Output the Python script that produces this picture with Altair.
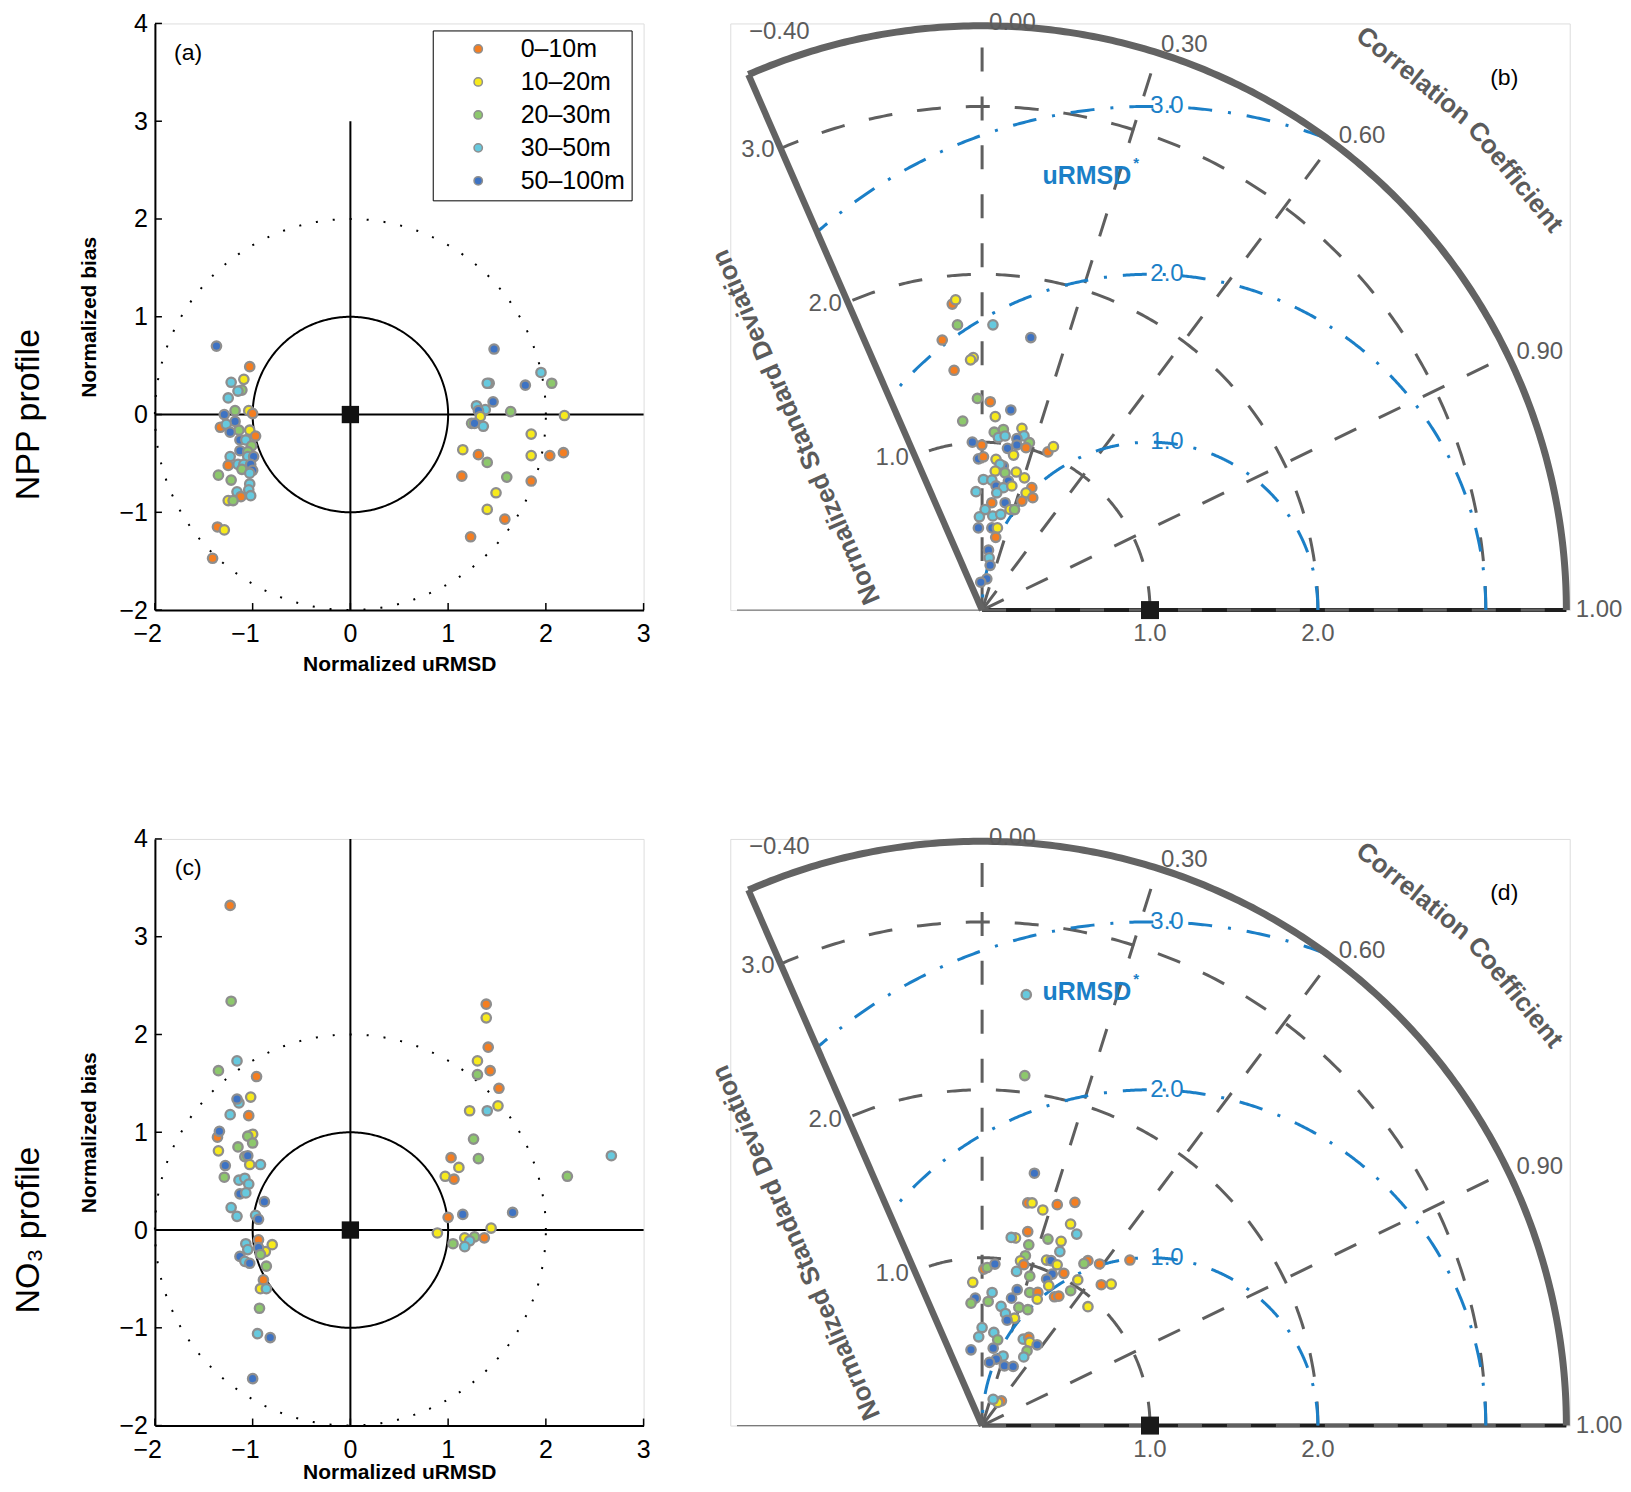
import altair as alt
import pandas as pd

FONT = "Liberation Sans"
INK = "#000000"
GRID_GREY = "#5f5f5f"
FRAME_GREY = "#636363"
TEXT_GREY = "#5b5b5b"
URMSD_BLUE = "#1b7fc7"
EDGE_GREY = "#8e8e8e"

DEPTH_CLASSES = ["0–10m", "10–20m", "20–30m", "30–50m", "50–100m"]
DEPTH_COLORS = ["#F47E21", "#F7EA1C", "#8DC86C", "#66C9DE", "#3E73C3"]

# ---------------- (a) NPP profile: target diagram ----------------
A_URMSD = [-1.41, -1.37, -1.03, -1.09, -1.22, -1.11, -1.15, -1.25, -1.18, -1.29,
           -1.04, -1.00, -1.18, -1.33, -1.27, -1.14, -1.03, -1.23, -0.97, -1.13,
           -1.07, -1.01, -1.13, -1.05, -1.23, -1.05, -0.99, -1.25, -1.15, -1.09,
           -1.02, -1.11, -1.00, -1.03, -1.35, -1.22, -1.03, -1.04, -1.16, -1.02,
           -1.12, -1.25, -1.20, -1.36, -1.29,
           1.47, 1.42, 1.40, 1.95, 1.79, 2.06, 1.29, 1.38, 1.46, 1.31,
           1.64, 2.19, 1.33, 1.24, 1.27, 1.36, 1.85, 1.15, 1.31, 1.40,
           1.85, 2.04, 2.18, 1.14, 1.60, 1.85, 1.49, 1.40, 1.58, 1.23]
A_BIAS = [-1.47, 0.70, 0.49, 0.36, 0.33, 0.25, 0.24, 0.17, 0.04, 0.00,
          0.04, 0.01, -0.07, -0.13, -0.10, -0.16, -0.16, -0.18, -0.22, -0.26,
          -0.26, -0.32, -0.37, -0.38, -0.43, -0.43, -0.43, -0.52, -0.51, -0.51,
          -0.51, -0.56, -0.57, -0.60, -0.62, -0.67, -0.71, -0.77, -0.79, -0.83,
          -0.84, -0.88, -0.88, -1.15, -1.18,
          0.67, 0.32, 0.32, 0.43, 0.30, 0.32, 0.09, 0.05, 0.13, 0.04,
          0.03, -0.01, -0.02, -0.09, -0.09, -0.12, -0.20, -0.36, -0.41, -0.49,
          -0.42, -0.42, -0.39, -0.63, -0.64, -0.68, -0.80, -0.97, -1.07, -1.25]
A_DEPTH = [0, 4, 0, 1, 3, 2, 3, 3, 2, 4, 1, 0, 4, 0, 3, 2, 1, 4, 0, 4,
           3, 2, 4, 2, 3, 3, 4, 0, 3, 3, 4, 2, 4, 3, 2, 2, 3, 3, 3, 3,
           0, 1, 2, 0, 1,
           4, 2, 3, 3, 4, 2, 3, 3, 4, 4, 2, 1, 1, 2, 4, 3, 1, 1, 0, 2,
           1, 0, 0, 0, 2, 0, 1, 1, 0, 0]

# ---------------- (c) NO3 profile: target diagram ----------------
C_URMSD = [-1.23, -1.22, -1.16, -1.35, -0.96, -1.14, -1.16, -1.02, -1.23, -1.04,
           -1.36, -1.34, -1.00, -1.05, -1.00, -1.35, -1.15, -1.08, -1.05, -1.03,
           -0.92, -1.28, -1.29, -1.14, -1.08, -1.04, -1.13, -1.07, -0.88, -1.22,
           -1.16, -0.97, -0.94, -0.94, -1.07, -0.80, -0.87, -0.94, -1.05, -0.92,
           -1.13, -1.08, -1.03, -0.86, -0.89, -0.92, -0.86, -0.93, -0.95, -0.82,
           -1.00,
           1.39, 1.39, 1.41, 1.30, 1.43, 1.30, 1.52, 1.51, 1.22, 1.40,
           1.26, 1.03, 1.31, 2.67, 1.11, 2.22, 0.97, 1.06, 1.00, 1.15,
           1.66, 1.44, 0.89, 1.17, 1.27, 1.22, 1.37, 1.05, 1.17]
C_BIAS = [3.32, 2.34, 1.73, 1.63, 1.57, 1.30, 1.34, 1.36, 1.18, 1.17,
          0.95, 1.01, 0.98, 0.96, 0.89, 0.81, 0.85, 0.75, 0.76, 0.67,
          0.67, 0.66, 0.54, 0.51, 0.53, 0.47, 0.37, 0.38, 0.29, 0.23,
          0.14, 0.15, 0.11, -0.10, -0.14, -0.15, -0.22, -0.18, -0.20, -0.25,
          -0.27, -0.32, -0.34, -0.37, -0.51, -0.60, -0.60, -0.80, -1.06, -1.10,
          -1.52,
          2.31, 2.17, 1.87, 1.73, 1.63, 1.59, 1.45, 1.27, 1.22, 1.22,
          0.93, 0.74, 0.73, 0.76, 0.64, 0.55, 0.55, 0.52, 0.13, 0.16,
          0.18, 0.02, -0.03, -0.08, -0.07, -0.11, -0.08, -0.14, -0.17]
C_DEPTH = [0, 2, 3, 2, 0, 3, 4, 1, 3, 0, 0, 4, 1, 2, 2, 1, 2, 2, 4, 1,
           3, 4, 2, 3, 3, 3, 4, 3, 4, 3, 3, 3, 4, 0, 3, 1, 1, 4, 3, 2,
           4, 3, 4, 2, 0, 1, 3, 2, 3, 4, 4,
           0, 1, 0, 1, 0, 2, 0, 1, 1, 3, 2, 0, 2, 3, 1, 2, 1, 0, 0, 4,
           4, 1, 1, 1, 2, 3, 0, 2, 3]

# ---------------- (b) NPP profile: Taylor diagram ----------------
B_STD = [1.831, 1.855, 1.705, 1.700, 1.626, 1.649, 1.505, 1.492, 1.438, 1.261,
         1.242, 1.204, 1.155, 1.132, 1.062, 1.083, 1.108, 1.032, 1.046, 1.067,
         1.042, 1.036, 1.002, 0.983, 0.975, 1.005, 1.002, 0.942, 1.021, 1.062,
         0.901, 0.913, 0.902, 0.867, 0.875, 0.832, 0.829, 0.847, 0.827, 0.778,
         0.776, 0.784, 0.744, 0.740, 0.760, 0.787, 0.746, 0.734, 0.706, 0.704,
         0.642, 0.654, 0.691, 0.622, 0.629, 0.599, 0.556, 0.564, 0.581, 0.490,
         0.493, 0.498, 0.441, 0.359, 0.314, 0.271, 0.188, 0.166]
B_CORR = [-0.097, -0.085, -0.086, 0.038, -0.146, 0.176, -0.035, -0.046, -0.116, -0.022,
          0.039, 0.142, 0.068, -0.102, 0.068, 0.117, 0.214, 0.094, 0.131, 0.234,
          0.199, 0.272, -0.058, -0.002, 0.155, 0.206, 0.261, 0.199, 0.384, 0.400,
          -0.024, 0.009, 0.092, 0.146, 0.122, 0.094, 0.165, 0.240, 0.305, 0.010,
          0.075, 0.200, 0.112, 0.172, 0.233, 0.376, 0.351, 0.411, -0.051, 0.124,
          0.090, 0.210, 0.343, 0.268, 0.307, 0.030, -0.029, 0.113, 0.191, -0.045,
          0.118, 0.183, 0.184, 0.106, 0.134, 0.177, 0.149, -0.048]
B_DEPTH = [0, 1, 2, 3, 0, 4, 1, 1, 0, 2, 0, 4, 1, 2, 2, 2, 1, 3, 3, 3,
           4, 2, 4, 0, 4, 4, 0, 1, 0, 1, 4, 0, 1, 4, 3, 1, 2, 1, 1, 3,
           3, 4, 4, 3, 1, 0, 1, 0, 3, 3, 0, 4, 0, 1, 2, 3, 3, 3, 3, 4,
           4, 1, 0, 4, 3, 4, 4, 4]

# ---------------- (d) NO3 profile: Taylor diagram ----------------
D_STD = [2.580, 2.100, 1.535, 1.354, 1.359, 1.334, 1.390, 1.440, 1.311, 1.272,
         1.187, 1.135, 1.134, 1.112, 1.178, 1.194, 1.135, 0.932, 0.942, 0.965,
         1.044, 1.008, 0.990, 1.058, 1.065, 1.057, 1.029, 0.994, 0.941, 0.934,
         0.954, 0.923, 1.038, 1.167, 1.140, 1.190, 1.322, 1.099, 1.141, 0.961,
         0.880, 0.896, 0.948, 0.855, 0.760, 0.732, 0.795, 0.740, 0.836, 0.779,
         0.842, 0.860, 0.821, 0.719, 0.737, 0.742, 0.682, 0.668, 0.645, 0.584,
         0.529, 0.559, 0.519, 0.570, 0.594, 0.571, 0.582, 0.519, 0.478, 0.456,
         0.466, 0.433, 0.405, 0.379, 0.380, 0.398, 0.187, 0.166, 0.170]
D_CORR = [0.102, 0.121, 0.203, 0.201, 0.219, 0.271, 0.322, 0.384, 0.402, 0.443,
          0.229, 0.175, 0.153, 0.250, 0.333, 0.394, 0.408, 0.011, 0.032, 0.079,
          0.247, 0.227, 0.251, 0.363, 0.386, 0.423, 0.473, 0.420, 0.218, 0.304,
          0.403, 0.430, 0.549, 0.540, 0.532, 0.588, 0.666, 0.646, 0.674, 0.549,
          0.490, 0.510, 0.665, -0.065, -0.053, -0.090, 0.075, 0.049, 0.250, 0.225,
          0.337, 0.386, 0.400, 0.157, 0.297, 0.367, 0.204, 0.289, 0.231, 0.000,
          -0.038, 0.125, 0.179, 0.430, 0.468, 0.497, 0.563, 0.516, 0.519, -0.145,
          0.142, 0.289, 0.210, 0.116, 0.350, 0.465, 0.615, 0.560, 0.388]
D_DEPTH = [3, 2, 4, 0, 1, 1, 0, 0, 1, 3, 0, 1, 3, 2, 2, 1, 3, 0, 2, 4,
           2, 1, 0, 1, 4, 1, 0, 4, 3, 2, 4, 1, 1, 0, 2, 0, 0, 0, 1, 2,
           0, 0, 1, 1, 4, 2, 3, 2, 4, 4, 2, 0, 1, 3, 2, 2, 3, 1, 4, 3,
           3, 3, 2, 3, 0, 1, 4, 2, 3, 4, 4, 3, 4, 4, 4, 4, 0, 1, 3]

# ---------------- guides / frame definitions ----------------
TGT_X_LIM = [-2, 3]
TGT_Y_LIM = [-2, 4]
TGT_XTICKS = [-2, -1, 0, 1, 2, 3]
TGT_YTICKS = [-2, -1, 0, 1, 2, 3, 4]
TGT_SOLID_R = [1.0]
TGT_DOTTED_R = [2.0]
TICK_LEN = 0.072

STD_MAX = 3.48
CORR_MIN = -0.4
REF_STD = 1.0
TAYLOR_X_LIM = [-1.5, 3.5]
TAYLOR_Y_LIM = [0.0, 3.494]
TAYLOR_BASE_START = -1.46
STD_GRID = [1.0, 2.0, 3.0]
STD_BOTTOM_LABELS = [1.0, 2.0]
CORR_GRID = [0.0, 0.3, 0.6, 0.9, 1.0]
CORR_LABELS = [0.0, 0.3, 0.6, 0.9, 1.0]
URMSD_GRID = [1.0, 2.0, 3.0]
CORR_LABEL_R = 3.53

PT_SIZE = 88
PT_EDGE = 2.3


def ring_layer(radii, X, Y, **mark):
    return (alt.Chart(pd.DataFrame({"r": radii}))
            .transform_calculate(k="sequence(0, 361)")
            .transform_flatten(["k"])
            .transform_calculate(x="datum.r * cos(datum.k * PI / 180)",
                                 y="datum.r * sin(datum.k * PI / 180)")
            .mark_line(**mark)
            .encode(x=X, y=Y, detail="r:N", order="k:Q"))


def target(xv, yv, dv, vline_top, tag, row_text, legend, title_pad):
    xsc = alt.Scale(domain=TGT_X_LIM, nice=False, zero=False)
    ysc = alt.Scale(domain=TGT_Y_LIM, nice=False, zero=False)
    xax = alt.Axis(title="Normalized uRMSD", labels=False, ticks=False, grid=False,
                   domainColor=INK, domainWidth=2, titlePadding=title_pad, titleFontSize=21,
                   titleFontWeight="bold", titleColor=INK, titleFont=FONT)
    yax = alt.Axis(title="Normalized bias", values=TGT_YTICKS, format="d", ticks=False,
                   grid=False, domainColor=INK, domainWidth=2, labelFontSize=25,
                   labelColor=INK, labelFont=FONT, labelPadding=7.5, titlePadding=19,
                   titleFontSize=21, titleFontWeight="bold", titleColor=INK, titleFont=FONT)
    X = alt.X("x:Q", scale=xsc, axis=xax)
    Y = alt.Y("y:Q", scale=ysc, axis=yax)

    frame = pd.DataFrame({"x": [TGT_X_LIM[0], 0.0], "x2": [TGT_X_LIM[1], 0.0],
                          "y": [0.0, TGT_Y_LIM[0]], "y2": [0.0, vline_top]})
    cross = alt.Chart(frame).mark_rule(color=INK, strokeWidth=2).encode(
        x=X, x2="x2:Q", y=Y, y2="y2:Q")

    xt = (alt.Chart(pd.DataFrame({"x": TGT_XTICKS}))
          .transform_calculate(y=f"{TGT_Y_LIM[0]}", y2=f"{TGT_Y_LIM[0]} + {TICK_LEN}")
          .mark_rule(color=INK, strokeWidth=1.5).encode(x=X, y=Y, y2="y2:Q"))
    yt = (alt.Chart(pd.DataFrame({"y": TGT_YTICKS}))
          .transform_calculate(x=f"{TGT_X_LIM[0]}", x2=f"{TGT_X_LIM[0]} + {TICK_LEN}")
          .mark_rule(color=INK, strokeWidth=1.5).encode(x=X, x2="x2:Q", y=Y))

    solid = ring_layer(TGT_SOLID_R, X, Y, color=INK, strokeWidth=2)
    dotted = ring_layer(TGT_DOTTED_R, X, Y, color=INK, strokeWidth=2, strokeDash=[2, 15])

    df = pd.DataFrame({"x": xv, "y": yv, "depth": [DEPTH_CLASSES[i] for i in dv]})
    pts = alt.Chart(df).mark_circle(size=PT_SIZE, opacity=1, stroke=EDGE_GREY,
                                    strokeWidth=PT_EDGE).encode(
        x=X, y=Y,
        color=alt.Color("depth:N", scale=alt.Scale(domain=DEPTH_CLASSES, range=DEPTH_COLORS),
                        legend=legend))

    ref = alt.Chart(pd.DataFrame({"x": [0.0], "y": [0.0]})).mark_square(
        size=300, color="#111111", opacity=1).encode(x=X, y=Y)

    ticks_df = pd.DataFrame({"x": TGT_XTICKS})
    neg_lab = (alt.Chart(ticks_df).transform_filter("datum.x < 0")
               .transform_calculate(y=f"{TGT_Y_LIM[0]}", t="format(datum.x, 'd')")
               .mark_text(align="right", baseline="middle", dx=7, dy=24, fontSize=25,
                          font=FONT, color=INK)
               .encode(x=X, y=Y, text="t:N"))
    pos_lab = (alt.Chart(ticks_df).transform_filter("datum.x >= 0")
               .transform_calculate(y=f"{TGT_Y_LIM[0]}", t="format(datum.x, 'd')")
               .mark_text(align="center", baseline="middle", dy=24, fontSize=25,
                          font=FONT, color=INK)
               .encode(x=X, y=Y, text="t:N"))

    tag_t = alt.Chart(pd.DataFrame({"x": [-1.66], "y": [3.70], "t": [tag]})).mark_text(
        fontSize=23, font=FONT, color=INK, align="center", baseline="middle").encode(
        x=X, y=Y, text="t:N")
    row_t = alt.Chart(pd.DataFrame({"x": [-3.29], "y": [0.0], "t": [row_text]})).mark_text(
        fontSize=34, font=FONT, color=INK, angle=270, align="center", baseline="middle").encode(
        x=X, y=Y, text="t:N")

    return alt.layer(cross, xt, yt, solid, dotted, pts, ref, neg_lab, pos_lab, tag_t, row_t).properties(
        width=489, height=587)


def taylor(stds, cors, dv, tag):
    xsc = alt.Scale(domain=TAYLOR_X_LIM, nice=False, zero=False)
    ysc = alt.Scale(domain=TAYLOR_Y_LIM, nice=False, zero=False)
    X = alt.X("x:Q", scale=xsc, axis=None)
    Y = alt.Y("y:Q", scale=ysc, axis=None)
    sin_min = f"sqrt(1 - {CORR_MIN} * {CORR_MIN})"

    base = alt.Chart(pd.DataFrame({"x": [TAYLOR_BASE_START], "x2": [STD_MAX], "y": [0.0]})).mark_rule(
        color="#7a7a7a", strokeWidth=1.2).encode(x=X, x2="x2:Q", y=Y)
    axis_line = alt.Chart(pd.DataFrame({"x": [0.0], "x2": [STD_MAX], "y": [0.0]})).mark_rule(
        color="#1e1e1e", strokeWidth=4).encode(x=X, x2="x2:Q", y=Y)

    std_arcs = (alt.Chart(pd.DataFrame({"s": STD_GRID}))
                .transform_calculate(k="sequence(0, 241)")
                .transform_flatten(["k"])
                .transform_calculate(a=f"datum.k / 240 * acos({CORR_MIN})",
                                     x="datum.s * cos(datum.a)", y="datum.s * sin(datum.a)")
                .mark_line(color=GRID_GREY, strokeWidth=3, strokeDash=[24, 25])
                .encode(x=X, y=Y, detail="s:N", order="k:Q"))

    radials = (alt.Chart(pd.DataFrame({"c": CORR_GRID}))
               .transform_calculate(x="0", y="0", x2=f"{STD_MAX} * datum.c",
                                    y2=f"{STD_MAX} * sqrt(1 - datum.c * datum.c)")
               .mark_rule(color=GRID_GREY, strokeWidth=3, strokeDash=[24, 25])
               .encode(x=X, y=Y, x2="x2:Q", y2="y2:Q"))

    urmsd = (alt.Chart(pd.DataFrame({"d": URMSD_GRID}))
             .transform_calculate(k="sequence(0, 721)")
             .transform_flatten(["k"])
             .transform_calculate(p="datum.k / 720 * PI",
                                  x=f"{REF_STD} + datum.d * cos(datum.p)",
                                  y="datum.d * sin(datum.p)",
                                  rr="sqrt(datum.x * datum.x + datum.y * datum.y)")
             .transform_filter(f"datum.rr <= {STD_MAX} && datum.x >= {CORR_MIN} * datum.rr")
             .mark_line(color=URMSD_BLUE, strokeWidth=3, strokeDash=[24, 16, 3, 16])
             .encode(x=X, y=Y, detail="d:N", order="k:Q"))

    outer = (alt.Chart(pd.DataFrame({"s": [STD_MAX]}))
             .transform_calculate(k="sequence(0, 241)")
             .transform_flatten(["k"])
             .transform_calculate(a=f"datum.k / 240 * acos({CORR_MIN})",
                                  x="datum.s * cos(datum.a)", y="datum.s * sin(datum.a)")
             .mark_line(color=FRAME_GREY, strokeWidth=7)
             .encode(x=X, y=Y, order="k:Q"))
    left = (alt.Chart(pd.DataFrame({"c": [CORR_MIN]}))
            .transform_calculate(x="0", y="0", x2=f"{STD_MAX} * datum.c",
                                 y2=f"{STD_MAX} * sqrt(1 - datum.c * datum.c)")
            .mark_rule(color=FRAME_GREY, strokeWidth=6.5)
            .encode(x=X, y=Y, x2="x2:Q", y2="y2:Q"))

    df = pd.DataFrame({"s": stds, "c": cors, "depth": [DEPTH_CLASSES[i] for i in dv]})
    pts = (alt.Chart(df)
           .transform_calculate(x="datum.s * datum.c", y="datum.s * sqrt(1 - datum.c * datum.c)")
           .mark_circle(size=PT_SIZE, opacity=1, stroke=EDGE_GREY, strokeWidth=PT_EDGE)
           .encode(x=X, y=Y,
                   color=alt.Color("depth:N", scale=alt.Scale(domain=DEPTH_CLASSES, range=DEPTH_COLORS),
                                   legend=None)))
    ref = (alt.Chart(pd.DataFrame({"s": [REF_STD], "c": [1.0]}))
           .transform_calculate(x="datum.s * datum.c", y="datum.s * sqrt(1 - datum.c * datum.c)")
           .mark_square(size=324, color="#1a1a1a", opacity=1).encode(x=X, y=Y))

    corr_df = pd.DataFrame({"c": CORR_LABELS})
    clab = (alt.Chart(corr_df).transform_filter("datum.c != 0")
            .transform_calculate(x=f"{CORR_LABEL_R} * datum.c",
                                 y=f"{CORR_LABEL_R} * sqrt(1 - datum.c * datum.c)",
                                 t="format(datum.c, '.2f')")
            .mark_text(align="left", baseline="middle", dx=1, dy=0, fontSize=24, font=FONT,
                       color=TEXT_GREY)
            .encode(x=X, y=Y, text="t:N"))
    czero = (alt.Chart(corr_df).transform_filter("datum.c == 0")
             .transform_calculate(x=f"{CORR_LABEL_R} * datum.c",
                                  y=f"{CORR_LABEL_R} * sqrt(1 - datum.c * datum.c)",
                                  t="format(datum.c, '.2f')")
             .mark_text(align="left", baseline="middle", dx=7, dy=5.6, fontSize=24, font=FONT,
                        color=TEXT_GREY)
             .encode(x=X, y=Y, text="t:N"))
    cmin = (alt.Chart(pd.DataFrame({"c": [CORR_MIN]}))
            .transform_calculate(x=f"{CORR_LABEL_R} * datum.c",
                                 y=f"{CORR_LABEL_R} * sqrt(1 - datum.c * datum.c)",
                                 t="format(datum.c, '.2f')")
            .mark_text(align="left", baseline="middle", dx=4, dy=-35, fontSize=24, font=FONT,
                       color=TEXT_GREY)
            .encode(x=X, y=Y, text="t:N"))
    slab = (alt.Chart(pd.DataFrame({"s": STD_GRID}))
            .transform_calculate(x=f"datum.s * {CORR_MIN}", y=f"datum.s * {sin_min}",
                                 t="format(datum.s, '.1f')")
            .mark_text(align="right", baseline="middle", dx=-6, dy=2, fontSize=24, font=FONT,
                       color=TEXT_GREY)
            .encode(x=X, y=Y, text="t:N"))
    blab = (alt.Chart(pd.DataFrame({"x": STD_BOTTOM_LABELS}))
            .transform_calculate(y="0", t="format(datum.x, '.1f')")
            .mark_text(align="center", baseline="middle", dy=24, fontSize=24, font=FONT,
                       color=TEXT_GREY)
            .encode(x=X, y=Y, text="t:N"))
    ulab = (alt.Chart(pd.DataFrame({"y": URMSD_GRID}))
            .transform_calculate(x=f"{REF_STD}", t="format(datum.y, '.1f')")
            .mark_text(align="center", baseline="middle", dx=17, fontSize=24, font=FONT,
                       color=URMSD_BLUE)
            .encode(x=X, y=Y, text="t:N"))
    uname = alt.Chart(pd.DataFrame({"x": [0.624], "y": [2.583], "t": ["uRMSD"]})).mark_text(
        align="center", baseline="middle", fontSize=25, fontWeight="bold", font=FONT,
        color=URMSD_BLUE).encode(x=X, y=Y, text="t:N")
    ustar = alt.Chart(pd.DataFrame({"x": [0.90], "y": [2.66], "t": ["*"]})).mark_text(
        align="left", baseline="middle", fontSize=15, fontWeight="bold", font=FONT,
        color=URMSD_BLUE).encode(x=X, y=Y, text="t:N")
    sd_title = alt.Chart(pd.DataFrame({"x": [-1.107], "y": [1.09],
                                       "t": ["Normalized Standard Deviation"]})).mark_text(
        align="center", baseline="middle", fontSize=26, fontWeight="bold", font=FONT,
        color=TEXT_GREY, angle=246.4).encode(x=X, y=Y, text="t:N")
    cc_title = (alt.Chart(pd.DataFrame({"w": ["Correlation", "Coefficient"], "pa": [51.1, 39.1]}))
                .transform_calculate(x="4.09 * cos(datum.pa * PI / 180)",
                                     y="4.09 * sin(datum.pa * PI / 180)",
                                     ta="90 - datum.pa")
                .mark_text(align="center", baseline="middle", fontSize=26, fontWeight="bold",
                           font=FONT, color=TEXT_GREY)
                .encode(x=X, y=Y, text="w:N", angle=alt.Angle("ta:Q", scale=None)))
    tag_t = alt.Chart(pd.DataFrame({"x": [3.11], "y": [3.17], "t": [tag]})).mark_text(
        fontSize=23, font=FONT, color=INK, align="center", baseline="middle").encode(
        x=X, y=Y, text="t:N")

    return alt.layer(base, axis_line, std_arcs, radials, urmsd, outer, left, pts, ref,
                     clab, czero, cmin, slab, blab, ulab, uname, ustar, sd_title, cc_title,
                     tag_t).properties(width=840, height=587)


LEG = alt.Legend(title=None, orient="none", legendX=278, legendY=7, strokeColor="black",
                 padding=6, rowPadding=7, symbolType="circle", symbolSize=70,
                 symbolStrokeColor=EDGE_GREY, symbolStrokeWidth=1.5, symbolOffset=27,
                 labelOffset=30, labelFontSize=25, labelFont=FONT, labelColor="black",
                 labelLimit=300)

panel_a = target(A_URMSD, A_BIAS, A_DEPTH, 3.0, "(a)", "NPP profile", LEG, 43)
panel_b = taylor(B_STD, B_CORR, B_DEPTH, "(b)")
panel_c = target(C_URMSD, C_BIAS, C_DEPTH, 4.0, "(c)", "NO₃ profile", None, 36)
panel_d = taylor(D_STD, D_CORR, D_DEPTH, "(d)")

chart = (alt.concat(panel_a, panel_b, panel_c, panel_d, columns=2,
                    spacing={"row": 229, "column": 86.7}, bounds="flush", align="each")
         .resolve_scale(color="independent", x="independent", y="independent")
         .resolve_legend(color="independent")
         .properties(padding={"left": 3, "top": 2, "right": 0, "bottom": 0})
         .configure_view(stroke=None)
         .configure(font=FONT))

chart.save("out.html", embed_options={"renderer": "svg", "actions": False})
